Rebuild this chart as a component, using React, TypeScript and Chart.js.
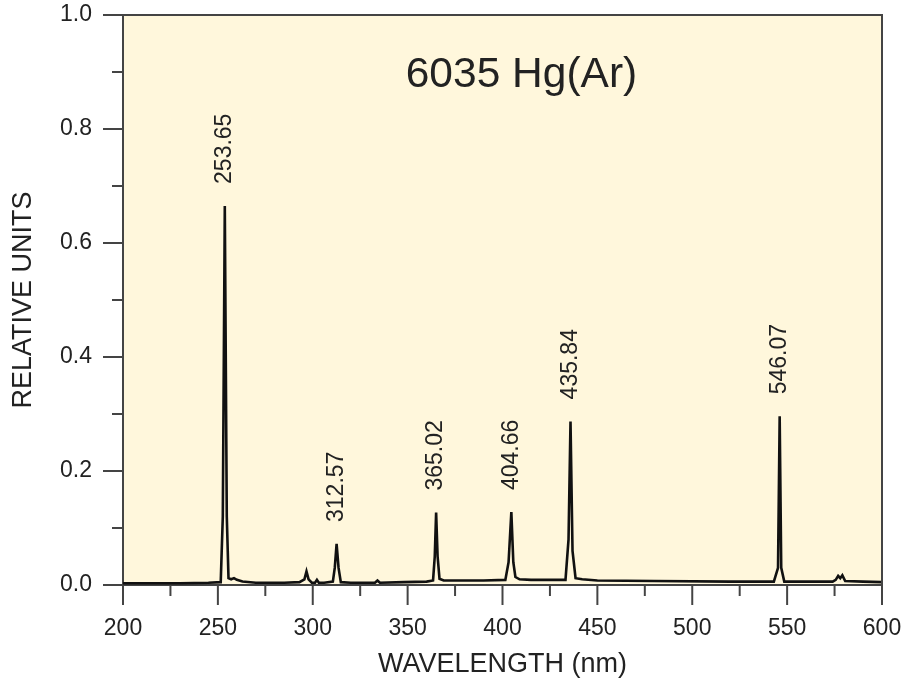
import React, { useEffect, useRef } from 'react';
import { Chart, registerables } from 'chart.js';

Chart.register(...registerables);

// Spectrum samples (nm, relative units)
const WAVELENGTHS = [
  200, 215, 230, 245, 251.5, 252.6, 253.65, 254.7, 255.6, 257,
  258.5, 260, 263, 270, 285, 293, 295.6, 296.7, 297.8, 299.5,
  301.2, 302.2, 303.2, 306, 310.6, 311.6, 312.57, 313.6, 314.8, 320,
  332.8, 334.1, 335.4, 348, 360, 363.4, 364.3, 365.02, 365.8, 366.8,
  369, 375, 390, 401.5, 403.2, 404.66, 405.7, 406.8, 409, 415,
  425, 433.2, 434.8, 435.84, 436.9, 438.5, 442, 450, 480, 520,
  543, 545.2, 546.07, 546.9, 548.5, 560, 574, 575.6, 576.9, 578,
  579.1, 580.6, 590, 600,
];
const INTENSITIES = [
  0.003, 0.003, 0.003, 0.004, 0.005, 0.12, 0.665, 0.12, 0.012, 0.01,
  0.012, 0.009, 0.006, 0.004, 0.004, 0.005, 0.01, 0.024, 0.01, 0.004,
  0.004, 0.009, 0.004, 0.004, 0.006, 0.03, 0.072, 0.03, 0.005, 0.004,
  0.004, 0.008, 0.004, 0.005, 0.006, 0.008, 0.05, 0.127, 0.05, 0.011,
  0.008, 0.008, 0.008, 0.009, 0.04, 0.128, 0.04, 0.014, 0.01, 0.009,
  0.009, 0.009, 0.08, 0.287, 0.06, 0.012, 0.01, 0.008, 0.007, 0.006,
  0.006, 0.03, 0.296, 0.03, 0.006, 0.006, 0.006, 0.009, 0.016, 0.012,
  0.017, 0.007, 0.006, 0.005,
];
const PEAK_LABELS = [253.65, 312.57, 365.02, 404.66, 435.84, 546.07];

const TITLE = '6035 Hg(Ar)';
const X_TITLE = 'WAVELENGTH (nm)';
const Y_TITLE = 'RELATIVE UNITS';
const X_MIN = 200;
const X_MAX = 600;
const X_STEP = 25;
const Y_MIN = 0;
const Y_MAX = 1;
const Y_STEP = 0.1;

const FONT = '"Liberation Sans", Arial, Helvetica, sans-serif';
const TEXT = '#222222';
const AXIS = '#444444';
const BG = '#fff7dc';

const decorPlugin = {
  id: 'decor',
  beforeDraw(chart: any) {
    const { ctx, chartArea: a } = chart;
    ctx.save();
    ctx.fillStyle = BG;
    ctx.fillRect(a.left, a.top, a.right - a.left, a.bottom - a.top);
    ctx.restore();
  },
  afterDraw(chart: any) {
    const { ctx, chartArea: a, scales } = chart;
    const xs = scales.x;
    const ys = scales.y;
    ctx.save();
    ctx.strokeStyle = AXIS;
    ctx.lineWidth = 2;
    ctx.lineCap = 'butt';
    // top & right frame
    ctx.beginPath();
    ctx.moveTo(a.left, a.top);
    ctx.lineTo(a.right, a.top);
    ctx.lineTo(a.right, a.bottom);
    ctx.stroke();
    // y ticks
    ys.ticks.forEach((t: any) => {
      const py = ys.getPixelForValue(t.value);
      const major = t.label !== '';
      const len = major ? 20 : 11;
      ctx.beginPath();
      ctx.moveTo(a.left - len, py);
      ctx.lineTo(a.left, py);
      ctx.stroke();
    });
    // x ticks
    xs.ticks.forEach((t: any) => {
      const px = xs.getPixelForValue(t.value);
      const major = t.label !== '';
      const len = major ? 20 : 11;
      ctx.beginPath();
      ctx.moveTo(px, a.bottom);
      ctx.lineTo(px, a.bottom + len);
      ctx.stroke();
    });
    // peak labels
    ctx.fillStyle = TEXT;
    ctx.font = `23px ${FONT}`;
    PEAK_LABELS.forEach((wl) => {
      const i = WAVELENGTHS.indexOf(wl);
      const v = INTENSITIES[i];
      const px = xs.getPixelForValue(wl);
      const py = ys.getPixelForValue(v) - 22;
      ctx.save();
      ctx.translate(px, py);
      ctx.rotate(-Math.PI / 2);
      ctx.textAlign = 'left';
      ctx.textBaseline = 'middle';
      ctx.fillText(wl.toFixed(2), 0, 0);
      ctx.restore();
    });
    // title inside plot
    ctx.font = `42.5px ${FONT}`;
    ctx.textAlign = 'center';
    ctx.textBaseline = 'alphabetic';
    ctx.fillText(TITLE, a.left + (a.right - a.left) * 0.525, a.top + 72);
    ctx.restore();
  },
};

export default function App() {
  const ref = useRef<HTMLCanvasElement | null>(null);
  useEffect(() => {
    if (!ref.current) return;
    const data = WAVELENGTHS.map((x, i) => ({ x, y: INTENSITIES[i] }));
    const chart = new Chart(ref.current, {
      type: 'line',
      data: {
        datasets: [
          {
            data,
            borderColor: '#111111',
            borderWidth: 2.6,
            pointRadius: 0,
            tension: 0,
            fill: false,
          },
        ],
      },
      options: {
        animation: false,
        responsive: false,
        layout: { padding: { left: 0, top: 15, right: 22, bottom: 0 } },
        plugins: { legend: { display: false }, tooltip: { enabled: false }, title: { display: false } },
        scales: {
          x: {
            type: 'linear',
            min: X_MIN,
            max: X_MAX,
            grid: { display: false, drawTicks: false },
            border: { display: true, color: AXIS, width: 2 },
            ticks: {
              stepSize: X_STEP,
              autoSkip: false,
              maxRotation: 0,
              padding: 30,
              color: TEXT,
              font: { family: FONT, size: 23 },
              callback: (v: any) => (Math.round(Number(v)) % 50 === 0 ? String(Math.round(Number(v))) : ''),
            },
            title: {
              display: true,
              text: X_TITLE,
              color: TEXT,
              font: { family: FONT, size: 27 },
              padding: { top: 0, bottom: 0 },
            },
            afterFit: (s: any) => {
              s.height = 96;
              s.paddingLeft = 0;
              s.paddingRight = 0;
            },
          },
          y: {
            type: 'linear',
            min: Y_MIN,
            max: Y_MAX,
            grid: { display: false, drawTicks: false },
            border: { display: true, color: AXIS, width: 2 },
            ticks: {
              stepSize: Y_STEP,
              autoSkip: false,
              padding: 31,
              color: TEXT,
              font: { family: FONT, size: 23 },
              callback: (v: any) => {
                const n = Math.round(Number(v) * 10);
                return n % 2 === 0 ? (n / 10).toFixed(1) : '';
              },
            },
            title: {
              display: true,
              text: Y_TITLE,
              color: TEXT,
              font: { family: FONT, size: 27 },
              padding: { top: 7, bottom: 0 },
            },
            afterFit: (s: any) => {
              s.width = 123;
              s.paddingTop = 0;
              s.paddingBottom = 0;
            },
          },
        },
      },
      plugins: [decorPlugin],
    });
    return () => chart.destroy();
  }, []);
  return (
    <div style={{ position: 'absolute', left: 0, top: 0, width: 904, height: 681, background: '#ffffff' }}>
      <canvas ref={ref} width={904} height={681} />
    </div>
  );
}
